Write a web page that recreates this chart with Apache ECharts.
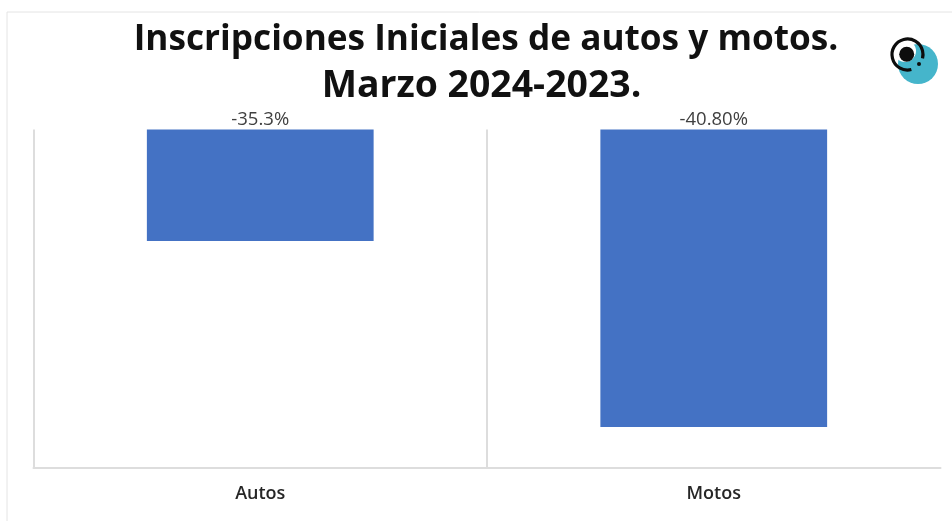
<!DOCTYPE html>
<html>
<head>
<meta charset="utf-8">
<style>html,body{margin:0;padding:0;background:#fff}#c{width:952px;height:521px}</style>
<script src="https://cdn.jsdelivr.net/npm/echarts@6/dist/echarts.min.js"></script>
</head>
<body>
<div id="c"></div>
<script>
var categories = ['Autos', 'Motos'];
var values = [-35.3, -40.8];
var valueLabels = ['-35.3%', '-40.80%'];
var titleLines = ['Inscripciones Iniciales de autos y motos.', 'Marzo 2024-2023.'];

var chart = echarts.init(document.getElementById('c'), null, {renderer: 'canvas'});
chart.setOption({
  animation: false,
  backgroundColor: '#ffffff',
  title: [
    {
      text: titleLines[0],
      left: 481, top: 11, textAlign: 'center',
      textStyle: {fontFamily: 'Open Sans', fontWeight: 'bold', fontSize: 35.2, lineHeight: 47, color: '#111111'}
    },
    {
      text: titleLines[1],
      left: 476.5, top: 58, textAlign: 'center',
      textStyle: {fontFamily: 'Open Sans', fontWeight: 'bold', fontSize: 37.4, lineHeight: 47, color: '#111111'}
    }
  ],
  grid: {left: 33.5, right: 11.5, top: 129.5, bottom: 53.5},
  xAxis: {
    type: 'category',
    data: categories,
    position: 'bottom',
    axisLine: {onZero: false, lineStyle: {color: '#dddddd', width: 2}},
    axisTick: {show: false},
    axisLabel: {margin: 17, fontFamily: 'Open Sans', fontWeight: 600, fontSize: 18, color: '#262626'},
    splitLine: {show: true, showMinLine: true, showMaxLine: false, lineStyle: {color: '#dddddd', width: 2}}
  },
  yAxis: {
    type: 'value',
    min: -42, max: -32, interval: 2,
    axisLine: {show: false},
    axisTick: {show: false},
    axisLabel: {show: false},
    splitLine: {show: false}
  },
  series: [{
    type: 'bar',
    data: values,
    barWidth: '50%',
    itemStyle: {color: '#4472c4'},
    label: {
      show: true, position: 'top', distance: 0,
      fontFamily: 'Open Sans', fontWeight: 500, fontSize: 18.5, color: '#404040',
      formatter: function (p) { return valueLabels[p.dataIndex]; }
    }
  }],
  graphic: [
    {type: 'line', silent: true, shape: {x1: 7, y1: 12, x2: 952, y2: 12}, style: {stroke: '#e4e4e4', lineWidth: 1}},
    {type: 'line', silent: true, shape: {x1: 7, y1: 12, x2: 7, y2: 521}, style: {stroke: '#e4e4e4', lineWidth: 1}},
    {type: 'circle', silent: true, shape: {cx: 918, cy: 64, r: 20}, style: {fill: '#45b5cb'}},
    {type: 'circle', silent: true, shape: {cx: 905, cy: 51, r: 11}, style: {fill: '#ffffff'}},
    {type: 'arc', silent: true, shape: {cx: 907.5, cy: 54.5, r: 15.5, startAngle: 0.42 * Math.PI, endAngle: 2.08 * Math.PI, clockwise: true}, style: {stroke: '#0d0d0d', lineWidth: 3.2, fill: null}},
    {type: 'circle', silent: true, shape: {cx: 906.7, cy: 54.3, r: 7.5}, style: {fill: '#0d0d0d'}},
    {type: 'circle', silent: true, shape: {cx: 919, cy: 64, r: 2}, style: {fill: '#0d0d0d'}}
  ]
});
</script>
</body>
</html>
